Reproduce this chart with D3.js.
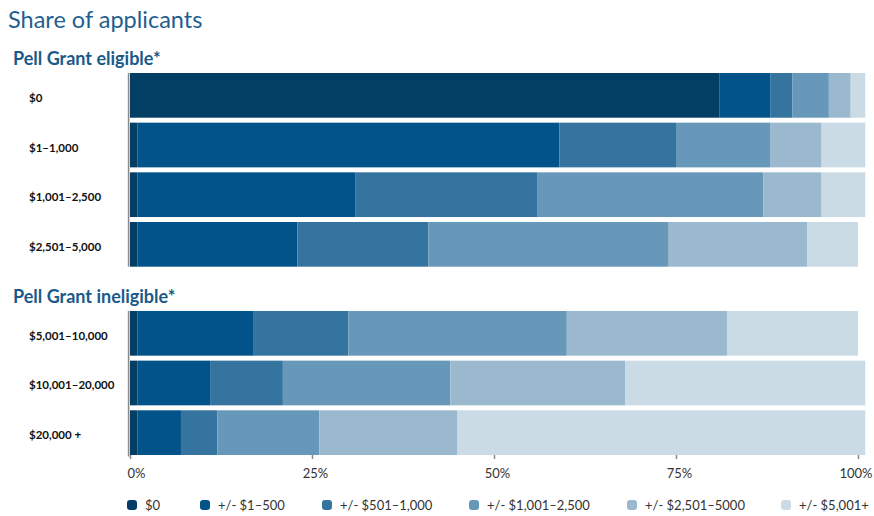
<!DOCTYPE html>
<html>
<head>
<meta charset="utf-8">
<script src="https://cdn.jsdelivr.net/npm/d3@7"></script>
<style>
  body { margin: 0; background: #fff; }
  text { font-family: Lato, "Noto Sans", sans-serif; }
</style>
</head>
<body>
<div id="chart"></div>
<script>
// chart size, same as the window
const svgWidth = 874;
const svgHeight = 516;

// row labels, one list per group
const eligibleRows = ["$0", "$1\u20131,000", "$1,001\u20132,500", "$2,501\u20135,000"];
const ineligibleRows = ["$5,001\u201310,000", "$10,001\u201320,000", "$20,000 +"];
const allRows = eligibleRows.concat(ineligibleRows);

// series (stack order, left to right)
const seriesNames = ["$0", "+/- $1\u2013500", "+/- $501\u20131,000", "+/- $1,001\u20132,500", "+/- $2,501\u20135000", "+/- $5,001+"];
const seriesColors = ["#033e64", "#02538a", "#3674a0", "#6797b9", "#9bb9ce", "#cbdbe5"];

// share of applicants in %, one array per series, in row order
const share0 = [81, 1, 1, 1, 1, 1, 1];
const share1to500 = [7, 58, 30, 22, 16, 10, 6];
const share501to1000 = [3, 16, 25, 18, 13, 10, 5];
const share1001to2500 = [5, 13, 31, 33, 30, 23, 14];
const share2501to5000 = [3, 7, 8, 19, 22, 24, 19];
const share5001plus = [2, 6, 6, 7, 18, 33, 56];

const xTicks = [0, 25, 50, 75, 100];

// build a table that d3.stack can use
const seriesValues = [share0, share1to500, share501to1000, share1001to2500, share2501to5000, share5001plus];
const table = allRows.map(function (row, i) {
    const obj = { row: row };
    seriesNames.forEach(function (s, j) { obj[s] = seriesValues[j][i]; });
    return obj;
});

// left edge of each legend item (layout only)
const legendX = [127, 200, 322, 469, 627, 781];

const svg = d3.select("#chart")
    .append("svg")
    .attr("width", svgWidth)
    .attr("height", svgHeight);

// scales
const x = d3.scaleLinear()
    .domain([0, 100])
    .range([130, 858]);

// one band scale, second group gets pushed down for its header
const y = d3.scaleBand()
    .domain(allRows)
    .range([73, 415.7])
    .paddingInner(0.1);
const groupGap = 39.3;
function rowY(r) {
    return y(r) + (ineligibleRows.includes(r) ? groupGap : 0);
}

const color = d3.scaleOrdinal().domain(seriesNames).range(seriesColors);

// title and group headers
svg.append("text")
    .text("Share of applicants")
    .attr("x", 8)
    .attr("y", 28)
    .attr("font-size", "23.5px")
    .attr("fill", "#1f5f8f");

svg.append("text")
    .text("Pell Grant eligible*")
    .attr("x", 13)
    .attr("y", 64.5)
    .attr("font-size", "18px")
    .attr("font-weight", "bold")
    .attr("fill", "#1a5a8a");

svg.append("text")
    .text("Pell Grant ineligible*")
    .attr("x", 13)
    .attr("y", 302.5)
    .attr("font-size", "18px")
    .attr("font-weight", "bold")
    .attr("fill", "#1a5a8a");

// stacked bars
const stacked = d3.stack().keys(seriesNames)(table);

svg.append("g")
    .selectAll("g")
    .data(stacked)
    .enter()
    .append("g")
    .attr("fill", d => color(d.key))
    .selectAll("rect")
    .data(d => d)
    .enter()
    .append("rect")
    .attr("x", d => x(d[0]))
    .attr("y", d => rowY(d.data.row))
    .attr("width", d => x(d[1]) - x(d[0]))
    .attr("height", y.bandwidth());

// row labels
svg.append("g")
    .selectAll("text")
    .data(allRows)
    .enter()
    .append("text")
    .text(d => d)
    .attr("x", 29)
    .attr("y", d => rowY(d) + y.bandwidth() / 2 + 6.5)
    .attr("font-size", "11.5px")
    .attr("font-weight", "bold")
    .attr("fill", "#111");

// left axis line, one piece per group
[eligibleRows, ineligibleRows].forEach(function (rows, gi) {
    svg.append("line")
        .attr("x1", 128.6)
        .attr("x2", 128.6)
        .attr("y1", rowY(rows[0]))
        .attr("y2", rowY(rows[rows.length - 1]) + y.bandwidth() + (gi === 1 ? 1.5 : 0))
        .attr("stroke", "#8a8a8a")
        .attr("stroke-width", 1.6);
});

// bottom axis
const xAxis = svg.append("g")
    .attr("transform", `translate(0, ${rowY(allRows[allRows.length - 1]) + y.bandwidth()})`)
    .call(d3.axisBottom(x).tickValues(xTicks).tickSize(4).tickPadding(10).tickFormat(d => d + "%"));
xAxis.select(".domain").remove();
xAxis.selectAll(".tick line").attr("stroke", "#8a8a8a").attr("stroke-width", 1.5);
xAxis.selectAll(".tick text")
    .attr("font-family", "'Open Sans', 'Noto Sans', sans-serif")
    .attr("font-size", "13px")
    .attr("fill", "#333")
    .attr("dx", "3px");
// first and last labels sit inside the chart edge
xAxis.selectAll(".tick text")
    .filter(d => d === 0)
    .attr("text-anchor", "start")
    .attr("dx", "-3px");
xAxis.selectAll(".tick text")
    .filter(d => d === 100)
    .attr("text-anchor", "end")
    .attr("dx", "14px");

// legend
const legend = svg.append("g").attr("transform", "translate(0, 505)");
seriesNames.forEach(function (s, i) {
    legend.append("rect")
        .attr("x", legendX[i])
        .attr("y", -5)
        .attr("width", 10)
        .attr("height", 10)
        .attr("rx", 3)
        .attr("fill", color(s));
    legend.append("text")
        .text(s)
        .attr("x", legendX[i] + 18)
        .attr("y", 4.5)
        .attr("font-size", "13px")
        .attr("fill", "#333");
});
</script>
</body>
</html>
